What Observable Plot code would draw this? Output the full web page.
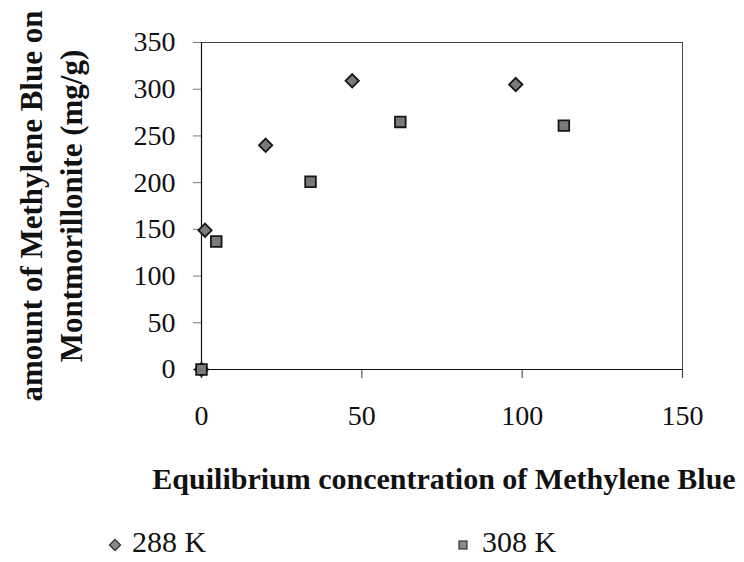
<!DOCTYPE html>
<html>
<head>
<meta charset="utf-8">
<script src="https://cdn.jsdelivr.net/npm/d3@7"></script>
<script src="https://cdn.jsdelivr.net/npm/@observablehq/plot@0.6"></script>
<style>
  html, body { margin: 0; padding: 0; background: #fff; }
  #wrap { width: 744px; height: 562px; position: relative; overflow: hidden; font-family: "Liberation Serif", "Times New Roman", serif; }
  #legend { position: relative; width: 744px; height: 52px; font-size: 30px; line-height: 30px; color: #111; }
  .sym { position: absolute; line-height: 0; }
  .sym svg { display: block; }
  .lab { position: absolute; top: 17px; white-space: nowrap; }
</style>
</head>
<body>
<div id="wrap"></div>
<script>
// Series data (equilibrium concentration, amount adsorbed mg/g)
const series288x = [0, 1.1, 20, 47, 98];
const series288y = [0, 149, 240, 309, 305];
const series308x = [0, 4.6, 34, 62, 113];
const series308y = [0, 137, 201, 265, 261];
const seriesNames = ["288 K", "308 K"];
const xTicks = [0, 50, 100, 150];
const yTicks = [0, 50, 100, 150, 200, 250, 300, 350];
const xTitle = "Equilibrium concentration of Methylene Blue";
const yTitle = "amount of Methylene Blue on\nMontmorillonite (mg/g)";

const rows = [
  ...series288x.map((x, i) => ({x, y: series288y[i], s: seriesNames[0]})),
  ...series308x.map((x, i) => ({x, y: series308y[i], s: seriesNames[1]}))
];

const fontFam = "Liberation Serif, Times New Roman, serif";

const chart = Plot.plot({
  width: 744,
  height: 510,
  marginLeft: 201,
  marginRight: 62,
  marginTop: 42,
  marginBottom: 141,
  style: {fontFamily: fontFam, fontSize: "28px", color: "#111", background: "white"},
  x: {domain: [0, 150], ticks: xTicks},
  y: {domain: [0, 350], ticks: yTicks},
  symbol: {domain: seriesNames, range: ["diamond2", "square"]},
  marks: [
    Plot.frame({stroke: "#444", strokeWidth: 1}),
    Plot.axisX({ticks: xTicks, tickSize: 9, tickPadding: 27, label: null, fontSize: 28, tickFormat: d => d, stroke: "#333"}),
    Plot.axisY({ticks: yTicks, tickSize: 8, tickPadding: 18, label: null, fontSize: 28, tickFormat: d => d, stroke: "#777"}),
    Plot.ruleX([0], {stroke: "#111", strokeWidth: 1.2}),
    Plot.ruleY([0], {stroke: "#111", strokeWidth: 1.2}),
    Plot.dot(rows, {x: "x", y: "y", symbol: "s", r: 6, fill: "#7a7a7a", stroke: "#161616", strokeWidth: 1.8}),
    Plot.text([xTitle], {text: d => d, frameAnchor: "bottom", textAnchor: "middle", lineAnchor: "bottom", dx: 2, dy: 119, fontSize: 30, fontWeight: "bold", fill: "#111"}),
    Plot.text([yTitle], {text: d => d, frameAnchor: "left", textAnchor: "middle", lineAnchor: "middle", rotate: -90, dx: -152, lineHeight: 1.26, fontSize: 31, fontWeight: "bold", fill: "#111"})
  ]
});

const wrap = document.getElementById("wrap");
wrap.appendChild(chart);

// Legend below the SVG
const legend = document.createElement("div");
legend.id = "legend";
const legendSymbolLeft = [108, 458];
const legendTextLeft = [132, 482];
const legendSvgs = [
  '<svg width="14" height="14" viewBox="-7 -7 14 14"><path d="M0,-5.5L5.5,0L0,5.5L-5.5,0Z" fill="#8a8a8a" stroke="#333" stroke-width="1.3"/></svg>',
  '<svg width="10" height="10" viewBox="-5 -5 10 10"><rect x="-4" y="-4" width="8" height="8" fill="#8a8a8a" stroke="#333" stroke-width="1.2"/></svg>'
];
const legendSymbolTop = [28, 30];
seriesNames.forEach((name, i) => {
  const s = document.createElement("div");
  s.className = "sym";
  s.style.left = legendSymbolLeft[i] + "px";
  s.style.top = legendSymbolTop[i] + "px";
  s.innerHTML = legendSvgs[i];
  legend.appendChild(s);
  const t = document.createElement("span");
  t.className = "lab";
  t.style.left = legendTextLeft[i] + "px";
  t.textContent = name;
  legend.appendChild(t);
});
wrap.appendChild(legend);
</script>
</body>
</html>
